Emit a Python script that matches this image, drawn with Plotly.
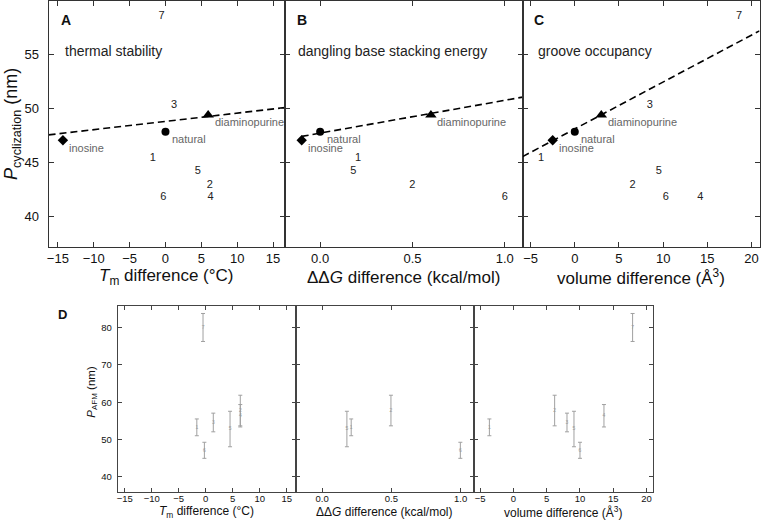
import plotly.graph_objects as go

W, H = 761, 520

# ---------------- data ----------------
labels = ['1', '2', '3', '4', '5', '6', '7']
tm_diff = [-1.75, 6.2, 1.2, 6.3, 4.5, -0.3, -0.55]          # deg C
ddg_diff = [0.205, 0.5, None, None, 0.18, 1.0, None]         # kcal/mol
vol_diff = [-3.8, 6.55, 8.5, 14.2, 9.5, 10.3, 18.6]          # A^3 (top panel C)
p_cyc = [45.4, 42.9, 50.3, 41.8, 44.2, 41.8, 58.5]           # nm

ref_names = ['inosine', 'natural', 'diaminopurine']
ref_symbols = ['diamond', 'circle', 'triangle-up']
ref_tm = [-14.3, 0.0, 5.95]
ref_ddg = [-0.1, 0.0, 0.6]
ref_vol = [-2.5, 0.0, 3.0]
ref_p = [47.07, 47.84, 49.4]

fitA_x = [-16.3, 16.7]
fitA_y = [47.56, 50.08]
fitB_x = [-0.1, 1.097]
fitB_y = [47.42, 51.04]
fitC_x = [-5.9, 20.9]
fitC_y = [45.56, 57.15]

afm_tm = [-1.65, 6.4, 1.4, 6.4, 4.5, -0.25, -0.5]
afm_ddg = [0.21, 0.497, None, None, 0.179, 0.998, None]
afm_vol = [-3.6, 6.2, 8.05, 13.6, 9.1, 10.0, 17.9]
p_afm = [53.3, 57.8, 54.6, 56.4, 52.85, 47.15, 80.05]
p_afm_err = [2.25, 4.1, 2.5, 3.0, 4.75, 2.15, 3.75]

# ---------------- layout helpers ----------------
FONT = "Liberation Sans, Arial, Helvetica, sans-serif"


def px_x(x):
    return x / W


def px_y(y):
    return 1 - y / H


top_y = [px_y(247.3), px_y(1)]
bot_y = [px_y(491.7), px_y(306)]
top_x = [(46.7, 284), (284, 522), (522, 759.5)]
bot_x = [(116, 294.7), (294.7, 473.3), (473.3, 652.3)]

fig = go.Figure()


def axis_style(size, color='#333'):
    return dict(showline=True, mirror='ticks', ticks='inside', ticklen=5,
                tickwidth=1, tickcolor=color, linecolor=color, linewidth=1,
                showgrid=False, zeroline=False,
                tickfont=dict(family=FONT, size=size, color='#111'))


def pick(xs, ys):
    ox, oy, ol = [], [], []
    for x, y, l in zip(xs, ys, labels):
        if x is not None:
            ox.append(x)
            oy.append(y)
            ol.append(l)
    return ox, oy, ol


# ---------------- top panels ----------------
tops = [
    (tm_diff, ref_tm, fitA_x, fitA_y),
    (ddg_diff, ref_ddg, fitB_x, fitB_y),
    (vol_diff, ref_vol, fitC_x, fitC_y),
]
for i, (xd, xr, fx, fy) in enumerate(tops):
    ax = '' if i == 0 else str(i + 1)
    xa, ya = 'x' + ax, 'y' + ax
    fig.add_trace(go.Scatter(x=fx, y=fy, mode='lines', xaxis=xa, yaxis=ya,
                             line=dict(color='black', width=1.6, dash='7px,4px'),
                             showlegend=False, hoverinfo='skip'))
    ox, oy, ol = pick(xd, p_cyc)
    fig.add_trace(go.Scatter(x=ox, y=oy, text=ol, mode='text', xaxis=xa, yaxis=ya,
                             textfont=dict(family=FONT, size=11, color='#222'),
                             showlegend=False))
    for xv, yv, nm, sym in zip(xr, ref_p, ref_names, ref_symbols):
        sz = {'diamond': 8, 'circle': 8, 'triangle-up': 10}[sym]
        fig.add_trace(go.Scatter(x=[xv], y=[yv], mode='markers', xaxis=xa, yaxis=ya,
                                 marker=dict(symbol=sym, color='black', size=sz),
                                 showlegend=False))
        fig.add_annotation(x=xv, y=yv, xref=xa, yref=ya, text=nm, showarrow=False,
                           xanchor='left', yanchor='middle', xshift=4.5, yshift=-7.5,
                           font=dict(family=FONT, size=11, color='#666'))

# ---------------- bottom panels ----------------
bots = [afm_tm, afm_ddg, afm_vol]
for i, xd in enumerate(bots):
    ax = str(i + 4)
    xa, ya = 'x' + ax, 'y' + ax
    ox, oy, oe = [], [], []
    ol = []
    for x, y, e, l in zip(xd, p_afm, p_afm_err, labels):
        if x is not None:
            ox.append(x); oy.append(y); oe.append(e); ol.append(l)
    fig.add_trace(go.Scatter(x=ox, y=oy, text=ol, mode='markers+text', xaxis=xa, yaxis=ya,
                             marker=dict(size=1, color='rgba(0,0,0,0)'),
                             textposition='middle center',
                             textfont=dict(family=FONT, size=5, color='#999'),
                             error_y=dict(type='data', array=oe, visible=True,
                                          color='#a0a0a0', thickness=1, width=2),
                             showlegend=False))

# ---------------- axes ----------------
layout = dict(width=W, height=H, margin=dict(l=0, r=0, t=0, b=0),
              plot_bgcolor='white', paper_bgcolor='white', showlegend=False)

top_ranges = [([-16.3, 16.7], dict(tickvals=[-15, -10, -5, 0, 5, 10, 15])),
              ([-0.189, 1.097], dict(tickvals=[0, 0.5, 1.0], tickformat='.1f')),
              ([-5.9, 20.9], dict(tickvals=[-5, 0, 5, 10, 15, 20]))]
for i in range(3):
    k = '' if i == 0 else str(i + 1)
    xs = axis_style(13)
    xs.update(domain=[px_x(top_x[i][0]), px_x(top_x[i][1])], range=top_ranges[i][0],
              anchor='y' + k, ticklabelstandoff=-1)
    xs.update(top_ranges[i][1])
    ys = axis_style(13)
    ys.update(domain=top_y, range=[37.2, 59.9], anchor='x' + k,
              tickvals=[40, 45, 50, 55], showticklabels=(i == 0), ticklabelstandoff=6)
    layout['xaxis' + k] = xs
    layout['yaxis' + k] = ys

for i in range(3):
    k = str(i + 4)
    xs = axis_style(9.5, '#444')
    xs.update(domain=[px_x(bot_x[i][0]), px_x(bot_x[i][1])], range=top_ranges[i][0],
              anchor='y' + k, ticklen=4, ticklabelstandoff=-2)
    xs.update(top_ranges[i][1])
    ys = axis_style(9.5, '#444')
    ys.update(domain=bot_y, range=[36.06, 85.8], anchor='x' + k, ticklen=4,
              tickvals=[40, 50, 60, 70, 80], showticklabels=(i == 0), ticklabelstandoff=3)
    layout['xaxis' + k] = xs
    layout['yaxis' + k] = ys

fig.update_layout(**layout)

# ---------------- text annotations ----------------
def ann(x, y, text, size, color='#111', xanchor='center', angle=0):
    fig.add_annotation(x=px_x(x), y=px_y(y), xref='paper', yref='paper', text=text,
                       showarrow=False, xanchor=xanchor, yanchor='middle', textangle=angle,
                       font=dict(family=FONT, size=size, color=color))


x_titles = ['<i>T</i><sub>m</sub> difference (°C)',
            'ΔΔ<i>G</i> difference (kcal/mol)',
            'volume difference (Å<sup>3</sup>)']
for i in range(3):
    ann((top_x[i][0] + top_x[i][1]) / 2, 277, x_titles[i], 17)
    ann((bot_x[i][0] + bot_x[i][1]) / 2, 512, x_titles[i], 12)

ann(10, 124, '<i>P</i><sub>cyclization</sub> (nm)', 18, angle=-90)
ann(90, 392, '<i>P</i><sub>AFM</sub> (nm)', 11.5, angle=-90)

for (x, t) in [(64, 'A'), (301, 'B'), (538, 'C')]:
    ann(x, 20, '<b>%s</b>' % t, 14)
ann(61, 314, '<b>D</b>', 13)

for (x, t) in [(61, 'thermal stability'), (295, 'dangling base stacking energy'),
               (535, 'groove occupancy')]:
    ann(x, 51, t, 14, color='#222', xanchor='left')

fig.write_html("out.html", config={'displayModeBar': False},
               post_script="document.body.style.margin='0';document.body.style.padding='0';")
